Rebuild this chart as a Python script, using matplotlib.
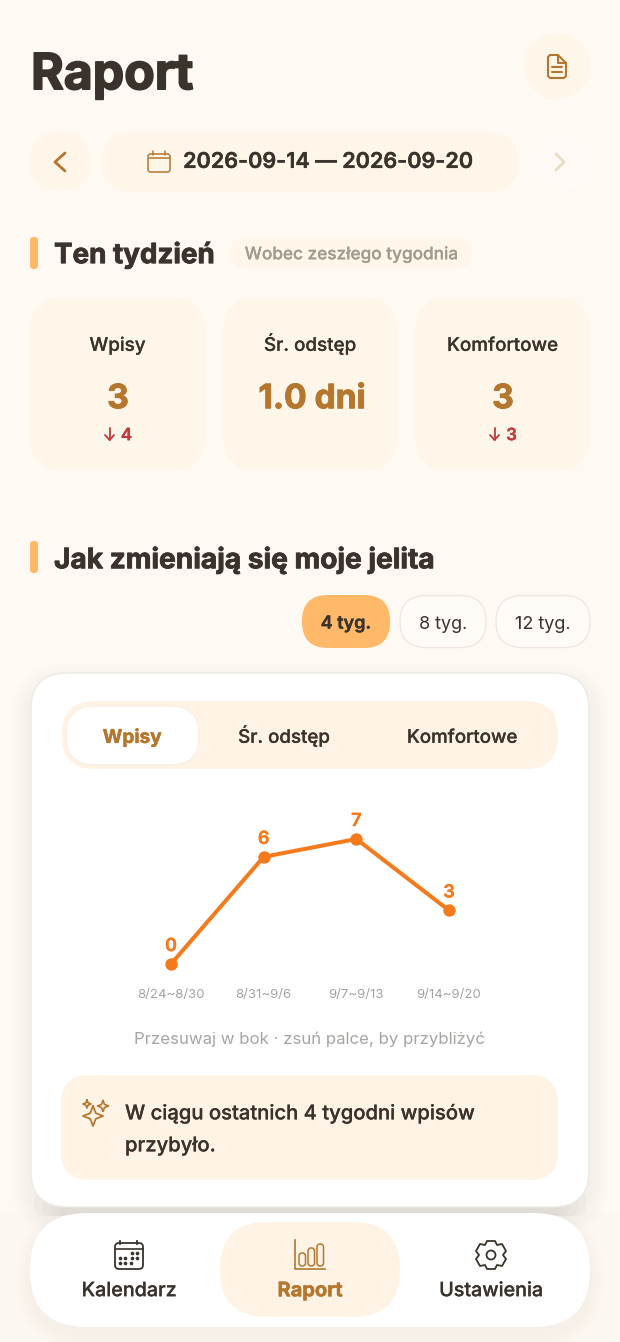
import matplotlib
matplotlib.use("Agg")
import matplotlib.pyplot as plt
import matplotlib.patheffects as pe
from matplotlib.patches import FancyBboxPatch, Circle, Polygon, Rectangle

W, H = 620, 1342
plt.rcParams['font.family'] = ['Inter', 'Noto Sans', 'DejaVu Sans']

# chart data
weeks = ["8/24~8/30", "8/31~9/6", "9/7~9/13", "9/14~9/20"]
entries = [0, 6, 7, 3]

# summary cards
card_labels = ["Wpisy", "Śr. odstęp", "Komfortowe"]
card_values = ["3", "1.0 dni", "3"]
card_deltas = ["4", "", "3"]
range_labels = ["4 tyg.", "8 tyg.", "12 tyg."]
tab_labels = ["Wpisy", "Śr. odstęp", "Komfortowe"]
nav_labels = ["Kalendarz", "Raport", "Ustawienia"]

BG = "#FFF9F3"
PANEL = "#FFF6EA"
PANEL2 = "#FFF3E5"
DARK = "#3A332C"
BROWN = "#B5772E"
ACCENT = "#FFB969"
ORANGE = "#F47A1C"
RED = "#C23B3B"


def px(n):
    # pixel size to points
    return n * 0.72


fig = plt.figure(figsize=(W / 100, H / 100), dpi=100, facecolor=BG)
ui = fig.add_axes([0, 0, 1, 1])
ui.set_xlim(0, W)
ui.set_ylim(H, 0)
ui.axis("off")


def rbox(x0, y0, x1, y1, r, fc, ec="none", lw=0, z=1, alpha=None):
    p = FancyBboxPatch((x0, y0), x1 - x0, y1 - y0, boxstyle=f"round,pad=0,rounding_size={r}",
                       fc=fc, ec=ec, lw=lw, zorder=z, alpha=alpha)
    ui.add_patch(p)
    return p


def shadow(x0, y0, x1, y1, r, dy=6, spread=14, color="#7F7A70", a=0.009):
    for i in range(spread, 0, -2):
        rbox(x0 - i, y0 - i + dy, x1 + i, y1 + i + dy, r + i, color, z=0.5, alpha=a)


def label(x, y, s, size, color=DARK, weight="normal", ha="center", z=5, fat=0):
    # y is the middle of the capital letters, so accents do not shift the line
    t = ui.text(x, y + 0.364 * size, s, fontsize=px(size), color=color, fontweight=weight, ha=ha, va="baseline", zorder=z)
    if fat:
        t.set_path_effects([pe.withStroke(linewidth=fat, foreground=color)])
    return t


def stroke(xs, ys, color, lw=1.5, z=6):
    ui.plot(xs, ys, color=color, lw=lw, solid_capstyle="round", solid_joinstyle="round", zorder=z)


# header
label(31, 71, "Raport", 49.9, weight="bold", ha="left", fat=1.2)
ui.add_patch(Circle((557, 66), 33, fc=PANEL, ec="none", zorder=1))
# document icon
stroke([550, 558, 566, 566, 564, 550, 548, 548, 550], [55, 55, 63, 76, 78, 78, 76, 57, 55], BROWN)
stroke([558, 558, 566], [55, 63, 63], BROWN)
stroke([552, 562], [67, 67], BROWN)
stroke([552, 562], [72, 72], BROWN)

# date row
rbox(30, 132, 90, 191, 29, PANEL)
stroke([65, 55, 65], [153, 162, 171], BROWN, lw=2)
rbox(102, 132, 518, 192, 30, PANEL)
rbox(148, 154, 170, 172, 2.5, "none", ec=BROWN, lw=1.1, z=6)
stroke([148.5, 169.5], [158, 158], BROWN, lw=1.1)
stroke([153, 153], [151, 155], BROWN, lw=1.1)
stroke([165, 165], [151, 155], BROWN, lw=1.1)
label(328.5, 160, "2026-09-14 — 2026-09-20", 21.6, weight="semibold", fat=0.3)
rbox(532, 134, 592, 190, 28, "#FFFAF5")
stroke([556, 564, 556], [154, 162, 170], "#EBDAC4", lw=2)

# this week section
rbox(30, 237, 38, 269, 3, ACCENT)
label(54, 253, "Ten tydzień", 27.8, weight="bold", ha="left", fat=0.6)
rbox(230, 238, 472, 268, 15, PANEL)
label(351, 253, "Wobec zeszłego tygodnia", 17.2, color="#A09A8F", weight="medium", fat=0.1)

card_x = [(30, 205), (223, 397), (415, 590)]
value_x = [118, 312, 503]
for (x0, x1), vx, name, val, d in zip(card_x, value_x, card_labels, card_values, card_deltas):
    cx = (x0 + x1) / 2
    rbox(x0, 297, x1, 471, 34, PANEL)
    label(cx, 344, name, 18.8, weight="medium", fat=0.12)
    label(vx, 396, val, 33.5, color=BROWN, weight="bold", fat=0.7)
    if d:
        label(cx + 9, 434, d, 17, color=RED, weight="semibold", fat=0.2)
        ax_ = cx - 8
        stroke([ax_, ax_], [428, 440], RED, lw=1.3)
        stroke([ax_ - 4.5, ax_, ax_ + 4.5], [435, 440, 435], RED, lw=1.3)

# trend section
rbox(30, 541, 38, 573, 3, ACCENT)
label(54, 558, "Jak zmieniają się moje jelita", 28.1, weight="bold", ha="left", fat=0.6)
chips = [(302, 390), (400, 486), (496, 590)]
for i, ((x0, x1), s) in enumerate(zip(chips, range_labels)):
    if i == 0:
        rbox(x0, 595, x1, 648, 26, ACCENT)
        label((x0 + x1) / 2, 622, s, 18, weight="semibold", fat=0.25)
    else:
        rbox(x0, 595.5, x1, 647.5, 26, "#FFFBF7", ec="#ECE8E1", lw=1)
        label((x0 + x1) / 2, 622, s, 18)

# white card
shadow(31, 673, 589, 1207, 36, dy=10, spread=20, a=0.005)
# grey band between card and nav, faded towards the sides
for inset in (34, 42, 50, 58):
    rbox(inset, 1190, W - inset, 1216, 10, "#C9C8BE", z=0.7, alpha=0.12)
rbox(31, 673, 589, 1207, 36, "white", ec="#EDEAE4", lw=1, z=1)
rbox(62, 701, 558, 769, 32, PANEL2, z=2)
rbox(66, 706, 199, 765, 28, "white", ec="#FBF0E3", lw=1.2, z=3)
tab_x = [132, 284, 462]
for i, (x, s) in enumerate(zip(tab_x, tab_labels)):
    if i == 0:
        label(x, 736, s, 19, color=BROWN, weight="bold", fat=0.35)
    else:
        label(x, 736, s, 18.7, weight="medium", fat=0.15)

# chart axes: index 0..3 sits on 171..449 px, value 0..7 on 964..839 px
ax_left, ax_right = 131, 489
ax_top, ax_bottom = 820, 975
chart = fig.add_axes([ax_left / W, 1 - ax_bottom / H, (ax_right - ax_left) / W, (ax_bottom - ax_top) / H])
chart.patch.set_alpha(0)
chart.set_xlim(-40 / (278 / 3), 3 + 40 / (278 / 3))
chart.set_ylim(-11 / (125 / 7), 7 + 19 / (125 / 7))
chart.plot(range(len(entries)), entries, color=ORANGE, lw=px(4), marker="o", ms=px(11), solid_joinstyle="round", clip_on=False)
for i, v in enumerate(entries):
    chart.annotate(str(v), (i, v), xytext=(0, px(17.5)), textcoords="offset points", ha="center", va="center",
                   color=ORANGE, fontsize=px(18), fontweight="semibold",
                   path_effects=[pe.withStroke(linewidth=0.3, foreground=ORANGE)])
chart.set_xticks(range(len(weeks)), weeks)
chart.set_yticks([])
chart.tick_params(axis="x", length=0, pad=px(14), labelsize=px(13.2), labelcolor="#A3A3A0")
for s in chart.spines.values():
    s.set_visible(False)

label(310, 1038, "Przesuwaj w bok · zsuń palce, by przybliżyć", 16.8, color="#A5A5A1")

# insight box
rbox(61, 1075, 558, 1180, 28, PANEL2, z=2)
label(125, 1112, "W ciągu ostatnich 4 tygodni wpisów", 20.2, weight="medium", ha="left", fat=0.15)
label(125, 1144, "przybyło.", 20.2, weight="medium", ha="left", fat=0.15)


def sparkle(cx, cy, r, lw=1.3):
    k = r * 0.28
    xs = [cx, cx + k, cx + r, cx + k, cx, cx - k, cx - r, cx - k, cx]
    ys = [cy - r, cy - k, cy, cy + k, cy + r, cy + k, cy, cy - k, cy - r]
    stroke(xs, ys, BROWN, lw=lw)


sparkle(93, 1116, 10)
sparkle(103, 1106, 5.5, lw=1.2)
sparkle(87, 1104, 4, lw=1.2)

# bottom nav
ui.add_patch(Rectangle((0, 1213), W, H - 1213, fc="#FDF7F1", ec="none", zorder=0.3))
shadow(30, 1213, 590, 1327, 57, dy=8)
rbox(30, 1213, 590, 1327, 57, "white", z=7)
rbox(220, 1222, 400, 1317, 47, PANEL2, z=7.5)
for x, s, c, w, f, sz in zip([129, 310, 491], nav_labels, [DARK, BROWN, DARK], ["medium", "bold", "medium"],
                             [0.15, 0.35, 0.15], [19.7, 20, 19.7]):
    label(x, 1289, s, sz, color=c, weight=w, z=9, fat=f)

# calendar nav icon
rbox(115, 1243, 143, 1269, 4, "none", ec=DARK, lw=1.3, z=9)
ui.plot([115.5, 142.5], [1249, 1249], color=DARK, lw=1.2, zorder=9)
ui.plot([120, 120], [1241, 1244], color=DARK, lw=1.3, zorder=9)
ui.plot([137, 137], [1241, 1244], color=DARK, lw=1.3, zorder=9)
for yy, xs_ in [(1253, [132, 137]), (1258, [120, 125, 132, 137]), (1263, [120, 125, 131])]:
    ui.scatter(xs_, [yy] * len(xs_), s=7, color=DARK, zorder=9, lw=0)

# bar chart nav icon
ui.plot([295, 295, 325], [1240, 1269, 1269], color=BROWN, lw=1.2, zorder=9)
for x0, top in [(299, 1253), (308, 1248), (317, 1244)]:
    rbox(x0, top, x0 + 6.5, 1266, 3, "none", ec=BROWN, lw=1.1, z=9)

# gear nav icon
ui.add_patch(Circle((491, 1255), 4.5, fc="none", ec=DARK, lw=1.3, zorder=9))
ui.add_patch(Polygon([(487, 1241), (495, 1241), (497, 1245), (502, 1244), (506, 1251), (503, 1255), (506, 1259),
                      (502, 1266), (497, 1265), (495, 1269), (487, 1269), (485, 1265), (480, 1266), (476, 1259),
                      (479, 1255), (476, 1251), (480, 1244), (485, 1245)],
                     closed=True, fc="none", ec=DARK, lw=1.3, joinstyle="round", zorder=9))

fig.savefig("out.png", dpi=100, facecolor=BG)
